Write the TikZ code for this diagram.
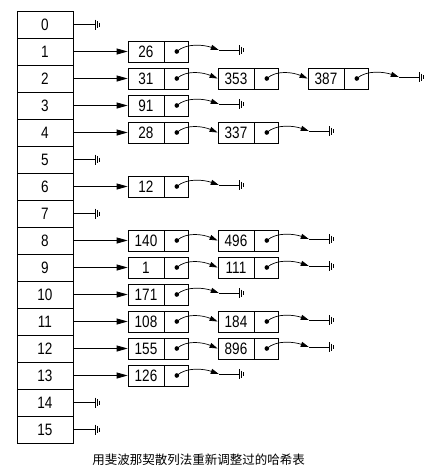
\documentclass[tikz,border=0pt]{standalone}
\usepackage{fontspec}
\setmainfont[FakeStretch=0.82]{Liberation Sans}
\newfontfamily\cjk{Noto Sans CJK SC}
\usetikzlibrary{arrows.meta,calc}
\begin{document}
\begin{tikzpicture}[x=1pt,y=-1pt,
  every node/.style={font=\fontsize{16.5}{17}\selectfont},
  cell/.style={draw,line width=0.8pt,minimum width=56pt,minimum height=27pt,inner sep=0pt},
  dbox/.style={draw,line width=0.8pt,minimum width=36pt,minimum height=21pt,inner sep=0pt},
  pbox/.style={draw,line width=0.8pt,minimum width=24pt,minimum height=21pt,inner sep=0pt},
  dotp/.style={circle,fill,inner sep=0pt,minimum size=4.6pt},
  link/.style={line width=0.8pt,-{Triangle[length=11pt,width=6pt]}},
  nxt/.style={line width=0.7pt,-{Triangle[length=8pt,width=5pt]}},
  wire/.style={line width=0.8pt},
  gnd/.pic={\draw[line width=0.6pt] (0,-5)--(0,5) (2,-3.5)--(2,3.5) (4,-2)--(4,2);}
]
\useasboundingbox (0,0) rectangle (433,469);
% table
\foreach \i in {0,...,15}{
  \node[cell] (r\i) at (45,{24.5+27*\i}) {\i};
}
% empty rows
\foreach \r in {0,5,7,14,15}{
  \draw[wire] (r\r.east) -- ++(22,0) coordinate (g\r);
  \pic at (g\r) {gnd};
}
% chains
\foreach \r/\vals in {1/{26},2/{31,353,387},3/{91},4/{28,337},6/{12},8/{140,496},9/{1,111},10/{171},11/{108,184},12/{155,896},13/{126}}{
  \pgfmathsetmacro\yy{24.5+27*\r}
  \foreach \v [count=\c] in \vals {
    \node[dbox] (d\r-\c) at ({146+90*(\c-1)},\yy) {\v};
    \node[pbox,anchor=west] (p\r-\c) at (d\r-\c.east) {};
    \node[dotp] (o\r-\c) at (p\r-\c.center) {};
    \ifnum\c=1
      \draw[link] (r\r.east) -- (d\r-\c.west);
    \else
      \pgfmathtruncatemacro\pc{\c-1}
      \draw[nxt] (o\r-\pc.center) .. controls +(10,-9) and +(-14,-6) .. (d\r-\c.west);
    \fi
    \xdef\lastc{\c}
  }
  \coordinate (t\r) at ($(o\r-\lastc.center)+(42,-1.5)$);
  \draw[nxt] (o\r-\lastc.center) .. controls +(10,-9) and +(-14,-5) .. (t\r);
  \coordinate (g\r) at ($(t\r)+(20,0)$);
  \draw[wire] (t\r) -- (g\r);
  \pic at (g\r) {gnd};
}
\node[font=\cjk\fontsize{12.5}{13}\selectfont] (cap) at (198.5,460) {用斐波那契散列法重新调整过的哈希表};
\end{tikzpicture}
\end{document}
